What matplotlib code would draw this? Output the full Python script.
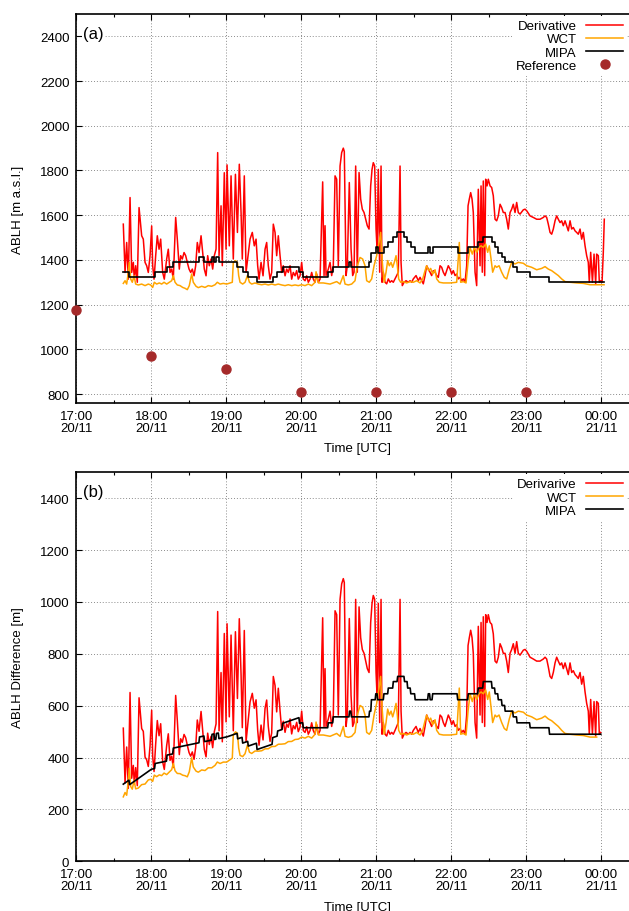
import numpy as np
import matplotlib
matplotlib.use('Agg')
import matplotlib.pyplot as plt
from matplotlib.ticker import FixedLocator

plt.rcParams['font.family'] = ['Liberation Sans', 'DejaVu Sans']
plt.rcParams['font.size'] = 9.5

# times are minutes after 17:00 UTC on 20/11
deriv_t = [37.6, 39.0, 40.3, 41.6, 43.0, 44.3, 45.6, 46.4, 47.5, 48.8, 50.2, 52.3, 53.6, 55.0,
           56.3, 57.6, 59.0, 60.3, 61.1, 62.2, 63.5, 64.8, 66.2, 67.5, 69.1, 70.4, 72.3, 73.6,
           75.0, 76.3, 77.6, 79.5, 80.8, 82.4, 83.5, 84.8, 86.2, 87.5, 88.8, 90.2, 91.5, 92.8,
           94.2, 95.5, 96.8, 98.2, 99.8, 101.1, 102.4, 103.8, 105.1, 106.4, 107.8, 109.1, 110.4,
           111.8, 113.1, 114.2, 115.8, 116.8, 118.4, 119.8, 120.6, 122.4, 123.8, 125.6, 127.3,
           128.9, 130.4, 131.8, 132.8, 134.4, 135.8, 139.0, 140.8, 142.4, 143.8, 145.1, 146.2,
           147.8, 149.4, 151.0, 152.3, 153.6, 155.0, 156.3, 157.6, 159.0, 160.3, 161.6, 163.0,
           164.3, 165.6, 167.0, 168.3, 169.6, 171.0, 172.3, 173.6, 175.0, 176.3, 177.6, 179.0,
           180.3, 181.6, 183.0, 184.3, 185.6, 187.0, 188.3, 189.6, 191.0, 192.3, 193.6, 195.0,
           197.1, 198.2, 199.0, 199.8, 201.6, 203.0, 204.3, 205.6, 207.0, 208.3, 209.6, 211.0,
           212.3, 213.6, 214.4, 215.8, 216.8, 218.4, 219.8, 221.1, 222.2, 223.5, 224.8, 226.2,
           227.5, 228.8, 230.2, 231.5, 232.8, 234.2, 235.5, 236.6, 237.6, 238.7, 239.8, 240.6,
           241.6, 242.7, 243.8, 244.6, 245.6, 247.0, 248.3, 249.6, 251.0, 252.3, 253.6, 255.0,
           256.3, 257.6, 259.0, 259.8, 260.8, 262.2, 263.8, 265.6, 267.0, 268.3, 269.6, 271.8,
           273.6, 275.0, 277.6, 279.0, 280.3, 281.6, 283.0, 284.3, 285.6, 287.0, 288.3, 289.6,
           291.0, 292.3, 293.6, 295.0, 296.3, 297.6, 299.0, 300.3, 301.6, 303.0, 304.3, 305.6,
           307.0, 308.3, 309.6, 311.0, 312.3, 313.4, 314.4, 315.5, 316.6, 317.6, 319.0, 320.3,
           321.6, 323.0, 323.8, 324.8, 325.6, 326.7, 327.5, 328.6, 329.6, 331.0, 332.3, 333.6,
           335.0, 336.3, 337.6, 339.0, 340.3, 341.6, 343.0, 344.3, 345.6, 347.0, 348.3, 349.6,
           351.0, 352.3, 353.6, 355.0, 357.6, 359.0, 360.3, 363.0, 365.6, 368.3, 371.0, 373.6,
           375.0, 376.3, 377.6, 379.0, 380.3, 381.6, 383.0, 384.3, 385.6, 387.0, 388.3, 389.6,
           391.0, 392.3, 393.6, 395.0, 396.3, 397.6, 399.0, 400.3, 401.6, 403.0, 404.3, 405.6,
           407.0, 408.3, 409.6, 410.4, 411.5, 412.9, 414.2, 415.5, 416.3, 417.6, 418.4, 419.5,
           420.6, 421.6, 422.4]
deriv_v = [1560, 1344, 1478, 1314, 1679, 1344, 1389, 1314, 1374, 1300, 1634, 1508, 1493, 1389,
           1374, 1344, 1419, 1552, 1374, 1314, 1419, 1508, 1448, 1493, 1344, 1314, 1404, 1448,
           1344, 1359, 1314, 1590, 1493, 1359, 1419, 1404, 1433, 1419, 1389, 1359, 1344, 1359,
           1329, 1374, 1478, 1433, 1508, 1433, 1359, 1329, 1419, 1374, 1404, 1359, 1419,
           1448, 1880, 1419, 1642, 1374, 1790, 1448, 1825, 1463, 1776, 1404, 1783,
           1523, 1828, 1612, 1404, 1776, 1345, 1493, 1523, 1463, 1493, 1374, 1314,
           1389, 1329, 1448, 1478, 1374, 1314, 1344, 1560, 1523, 1419, 1508, 1419,
           1344, 1374, 1329, 1359, 1344, 1374, 1314, 1344, 1329, 1352, 1314, 1329,
           1389, 1314, 1307, 1329, 1300, 1314, 1344, 1314, 1300, 1337, 1300, 1314,
           1749, 1330, 1553, 1330, 1359, 1389, 1330, 1374, 1776, 1761, 1374, 1820,
           1880, 1900, 1885, 1330, 1374, 1746, 1449, 1330, 1345, 1820, 1345, 1791,
           1672, 1627, 1612, 1582, 1553, 1538, 1731, 1805, 1835, 1820, 1538, 1449,
           1805, 1345, 1820, 1300, 1345, 1300, 1293, 1315, 1300, 1307, 1300, 1315,
           1330, 1345, 1820, 1389, 1285, 1300, 1307, 1300, 1307, 1300, 1315, 1330,
           1307, 1322, 1293, 1330, 1374, 1359, 1345, 1330, 1352, 1345, 1330, 1322,
           1374, 1367, 1345, 1330, 1352, 1374, 1359, 1337, 1352, 1330, 1337, 1315,
           1322, 1307, 1315, 1300, 1374, 1642, 1672, 1701, 1672, 1612, 1345, 1285,
           1716, 1374, 1731, 1345, 1753, 1330, 1761, 1731, 1761, 1731, 1724, 1687,
           1582, 1575, 1597, 1649, 1634, 1612, 1612, 1582, 1538, 1612, 1627, 1649,
           1612, 1657, 1612, 1605, 1624, 1627, 1620, 1597, 1590, 1582, 1582, 1590,
           1597, 1590, 1560, 1523, 1515, 1538, 1575, 1597, 1582, 1567, 1575, 1553,
           1575, 1553, 1530, 1575, 1538, 1545, 1530, 1523, 1515, 1538, 1493, 1523,
           1463, 1419, 1389, 1300, 1434, 1300, 1426, 1293, 1426, 1419, 1300, 1307,
           1300, 1434, 1582]

wct_t = [37.6, 39.0, 40.3, 41.6, 42.4, 43.5, 44.8, 46.2, 47.5, 49.6, 52.3, 55.0, 57.6, 59.5,
         61.1, 62.4, 64.3, 66.4, 68.3, 70.2, 72.3, 74.4, 76.3, 77.6, 79.0, 80.8, 83.0, 85.1,
         87.0, 88.8, 90.4, 92.3, 93.6, 95.8, 97.6, 100.3, 103.0, 105.6, 108.3, 111.0, 112.8,
         115.0, 117.6, 120.3, 123.0, 124.8, 125.6, 127.3, 128.9, 129.9, 131.0, 133.1, 135.0,
         136.9, 138.5, 140.3, 143.0, 145.6, 148.3, 151.0, 153.6, 156.3, 159.0, 161.6, 164.3,
         167.0, 169.6, 172.3, 175.0, 177.6, 180.3, 183.0, 185.6, 188.3, 191.0, 191.8, 193.7,
         197.6, 203.0, 208.3, 211.0, 213.6, 215.0, 217.6, 220.3, 223.0, 224.8, 227.0, 229.1,
         231.0, 232.3, 234.4, 236.3, 238.2, 240.3, 242.2, 243.5, 244.6, 246.2, 247.8, 249.1,
         250.4, 251.8, 253.1, 254.4, 255.8, 256.8, 257.9, 259.5, 261.6, 264.3, 267.0, 269.6,
         272.3, 275.0, 277.1, 279.0, 280.3, 281.9, 283.5, 285.1, 287.0, 288.3, 290.4, 293.6,
         299.0, 304.3, 306.4, 307.5, 309.6, 311.8, 313.4, 315.0, 316.8, 318.4, 320.3, 322.2,
         323.8, 325.6, 327.5, 329.1, 330.4, 331.8, 333.1, 335.0, 336.3, 338.2, 340.3, 342.4,
         344.3, 346.4, 348.3, 351.0, 353.6, 357.6, 360.3, 364.3, 368.3, 372.3, 375.0, 377.6,
         380.3, 383.0, 385.6, 388.3, 391.0, 395.0, 400.3, 405.6, 411.0, 416.3, 422.2]
wct_v = [1295, 1307, 1292, 1344, 1389, 1315, 1300, 1330, 1292, 1288, 1292, 1285, 1292, 1288,
         1277, 1300, 1292, 1297, 1292, 1300, 1292, 1300, 1307, 1330, 1300, 1288, 1285, 1277,
         1273, 1267, 1285, 1337, 1300, 1282, 1276, 1282, 1277, 1285, 1282, 1289, 1300,
         1292, 1295, 1292, 1297, 1300, 1389, 1397, 1389, 1330, 1300, 1292, 1300,
         1330, 1300, 1292, 1297, 1292, 1289, 1292, 1288, 1292, 1288, 1292, 1288,
         1285, 1289, 1285, 1288, 1285, 1289, 1285, 1292, 1285, 1300, 1347, 1297,
         1297, 1292, 1303, 1292, 1330, 1292, 1288, 1292, 1307, 1374, 1411, 1404,
         1374, 1307, 1300, 1315, 1374, 1419, 1478, 1523, 1404, 1300, 1345, 1397,
         1374, 1389, 1367, 1389, 1419, 1374, 1315, 1300, 1303, 1297, 1303, 1300,
         1307, 1297, 1315, 1352, 1374, 1352, 1362, 1337, 1356, 1315, 1300, 1297,
         1297, 1300, 1478, 1300, 1303, 1297, 1389, 1456, 1426, 1456, 1434, 1456,
         1463, 1456, 1471, 1434, 1463, 1404, 1345, 1374, 1367, 1374, 1345, 1322,
         1315, 1359, 1389, 1382, 1389, 1385, 1374, 1367, 1356, 1362, 1370, 1359,
         1352, 1341, 1330, 1315, 1303, 1300, 1297, 1295, 1289, 1289, 1289]

mipa_t = [37.6, 42.2, 63.0, 72.3, 77.6, 98.4, 102.2, 108.6, 110.2, 111.8, 114.0, 128.8, 133.1,
          137.6, 144.3, 157.1, 160.8, 165.1, 178.4, 181.6, 201.6, 205.6, 218.4, 220.0, 234.4,
          235.8, 239.5, 241.0, 246.0, 249.6, 253.6, 256.8, 262.2, 264.8, 267.5, 271.0, 281.6,
          283.0, 285.0, 305.0, 313.6, 321.6, 325.6, 332.3, 335.0, 337.6, 340.3, 343.0, 349.6,
          352.3, 363.0, 378.4, 422.2]
mipa_v = [1344, 1325, 1344, 1367, 1389, 1411, 1389, 1411, 1389, 1411, 1389, 1367, 1344,
          1325, 1300, 1325, 1344, 1367, 1344, 1325, 1344, 1367, 1389, 1367, 1389,
          1433, 1456, 1433, 1456, 1478, 1503, 1523, 1503, 1478, 1456, 1433, 1456,
          1433, 1456, 1433, 1456, 1478, 1503, 1478, 1456, 1433, 1411, 1389, 1367,
          1344, 1325, 1300, 1300]

ref_t = [0, 60, 120, 180, 240, 300, 360]
ref_v = [1175, 970, 910, 810, 810, 810, 810]

tick_t = [0, 60, 120, 180, 240, 300, 360, 420]
tick_labels = ['17:00\n20/11', '18:00\n20/11', '19:00\n20/11', '20:00\n20/11',
               '21:00\n20/11', '22:00\n20/11', '23:00\n20/11', '00:00\n21/11']

W, H = 629, 912
fig = plt.figure(figsize=(W / 100, H / 100), dpi=100)
ax_w = 450 * 1.25 / W   # axis runs to 00:30, the right part is cut by the figure edge
axa = fig.add_axes([76.3 / W, 1 - 404 / H, ax_w, 389 / H])
axb = fig.add_axes([76.3 / W, 1 - 862.3 / H, ax_w, 389 / H])

RED, ORANGE, REFC = '#ff0000', '#ffa500', '#a52a2a'


def setup(ax, ylim, yticks, ylabel, tag):
    ax.set_xlim(0, 450)
    ax.set_ylim(*ylim)
    ax.set_yticks(yticks)
    ax.set_xticks(tick_t)
    ax.set_xticklabels(tick_labels)
    for lbl in ax.get_xticklabels():
        lbl.set_linespacing(1.0)
    ax.xaxis.set_minor_locator(FixedLocator([30, 90, 150, 210, 270, 330, 390]))
    ax.tick_params(which='both', direction='in', top=True, right=True, width=0.8)
    ax.tick_params(which='major', length=4, pad=5)
    ax.tick_params(which='minor', length=2.5)
    ax.grid(True, which='major', linestyle=(0, (1, 2)), color='#8c8c8c', lw=0.7)
    ax.set_axisbelow(True)
    for s in ax.spines.values():
        s.set_linewidth(1.2)
    ax.set_ylabel(ylabel, labelpad=11)
    ax.set_xlabel('Time [UTC]', labelpad=6)
    ax.text(0.012, 0.95, tag, transform=ax.transAxes, fontsize=12, va='center', ha='left',
            bbox=dict(facecolor='white', edgecolor='none', pad=1), zorder=5)


# (a) absolute heights
axa.plot(deriv_t, deriv_v, color=RED, lw=1.1, label='Derivative')
axa.plot(wct_t, wct_v, color=ORANGE, lw=1.1, label='WCT')
axa.plot(mipa_t, mipa_v, color='black', lw=1.2, drawstyle='steps-post', label='MIPA')
axa.plot(ref_t, ref_v, linestyle='none', marker='o', ms=6.5, color=REFC, clip_on=False,
         zorder=6, label='Reference')
setup(axa, (760, 2500), range(800, 2401, 200), 'ABLH [m a.s.l.]', '(a)')

# (b) difference to the reference sounding
dt = np.array(deriv_t)
wt = np.array(wct_t)
keep_d = dt <= 420
keep_w = wt <= 420
d_diff = np.array(deriv_v) - np.interp(dt, ref_t, ref_v)
w_diff = np.array(wct_v) - np.interp(wt, ref_t, ref_v)
mt = np.arange(37.6, 420.01, 0.5)
m_step = np.array(mipa_v)[np.searchsorted(mipa_t, mt, side='right') - 1]
m_diff = m_step - np.interp(mt, ref_t, ref_v)

axb.plot(dt[keep_d], d_diff[keep_d], color=RED, lw=1.1, label='Derivarive')
axb.plot(wt[keep_w], w_diff[keep_w], color=ORANGE, lw=1.1, label='WCT')
axb.plot(mt, m_diff, color='black', lw=1.2, label='MIPA')
setup(axb, (0, 1500), range(0, 1401, 200), 'ABLH Difference [m]', '(b)')

for ax, top in ((axa, 15), (axb, 473.3)):
    ax.legend(loc='upper right', bbox_to_anchor=(627 / W, 1 - (top + 2) / H),
              bbox_transform=fig.transFigure, markerfirst=False, fancybox=False,
              facecolor='white', edgecolor='none', framealpha=1, borderpad=0.3,
              borderaxespad=0, handlelength=2.8, handletextpad=0.7, labelspacing=0.08,
              numpoints=1, fontsize=9.5)

fig.savefig('out.png', dpi=100)
